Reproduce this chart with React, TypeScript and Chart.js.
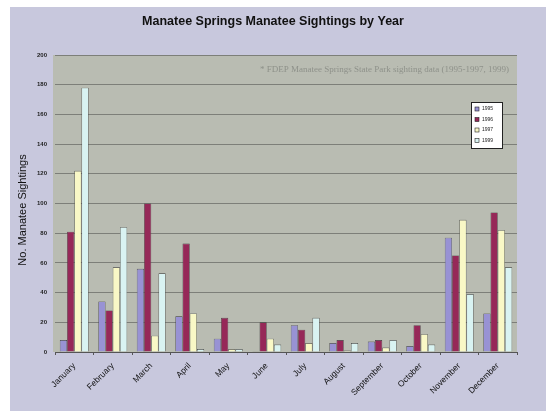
import React, { useEffect, useRef } from "react";
import { Chart, registerables } from "chart.js";

Chart.register(...registerables);

const months = ["January","February","March","April","May","June","July","August","September","October","November","December"];
const seriesLabels = ["1995", "1996", "1997", "1999"];
const y1995 = [8, 34, 56, 24, 9, 0.5, 18, 6, 7, 4, 77, 26];
const y1996 = [81, 28, 100, 73, 23, 20, 15, 8, 8, 18, 65, 94];
const y1997 = [122, 57, 11, 26, 2, 9, 6, 1, 3, 12, 89, 82];
const y1999 = [178, 84, 53, 2, 2, 5, 23, 6, 8, 5, 39, 57];
const yTicks = [0, 20, 40, 60, 80, 100, 120, 140, 160, 180, 200];
const colors = ["#9892d4", "#962858", "#f9f8c6", "#d9f3f2"];
const title = "Manatee Springs Manatee Sightings by Year";
const yTitle = "No. Manatee Sightings";
const note = "* FDEP Manatee Springs State Park sighting data (1995-1997, 1999)";

const decor = {
  id: "decor",
  beforeDraw(chart: any) {
    const ctx = chart.ctx;
    const a = chart.chartArea;
    ctx.save();
    ctx.fillStyle = "#ffffff";
    ctx.fillRect(0, 0, chart.width, chart.height);
    ctx.fillStyle = "#c8c8dd";
    ctx.fillRect(10, 7, chart.width - 10, chart.height - 7);
    ctx.fillStyle = "#b9bcb2";
    ctx.fillRect(a.left - 2, a.top, a.right - a.left + 2, a.bottom - a.top);
    ctx.restore();
  },
  afterDraw(chart: any) {
    const ctx = chart.ctx;
    const a = chart.chartArea;
    ctx.save();
    ctx.fillStyle = "#111";
    ctx.font = "bold 12.5px 'Liberation Sans', Arial, sans-serif";
    ctx.textAlign = "center";
    ctx.textBaseline = "middle";
    ctx.fillText(title, 273, 22);
    // y title
    ctx.save();
    ctx.translate(23, 210);
    ctx.rotate(-Math.PI / 2);
    ctx.font = "11px 'Liberation Sans', Arial, sans-serif";
    ctx.fillText(yTitle, 0, 0);
    ctx.restore();
    // note
    ctx.fillStyle = "#8e918a";
    ctx.font = "9px 'Liberation Serif', 'Times New Roman', serif";
    ctx.textAlign = "right";
    ctx.fillText(note, a.right - 8, 70);
    // legend
    const lx = 471, ly = 102, lw = 31, lh = 46;
    ctx.fillStyle = "#ffffff";
    ctx.fillRect(lx, ly, lw, lh);
    ctx.strokeStyle = "#222";
    ctx.lineWidth = 1;
    ctx.strokeRect(lx + 0.5, ly + 0.5, lw, lh);
    ctx.textAlign = "left";
    ctx.font = "5px 'Liberation Sans', Arial, sans-serif";
    chart.data.datasets.forEach((ds: any, i: number) => {
      const yy = ly + 7 + i * 10.5;
      ctx.fillStyle = ds.backgroundColor;
      ctx.fillRect(lx + 4, yy - 2, 4, 4);
      ctx.strokeStyle = "#222";
      ctx.lineWidth = 0.6;
      ctx.strokeRect(lx + 4, yy - 2, 4, 4);
      ctx.fillStyle = "#222";
      ctx.fillText(ds.label, lx + 11, yy);
    });
    ctx.restore();
  },
};

export default function App() {
  const ref = useRef<HTMLCanvasElement>(null);
  useEffect(() => {
    document.body.style.margin = "0";
    const data = [y1995, y1996, y1997, y1999];
    const chart = new Chart(ref.current!, {
      type: "bar",
      data: {
        labels: months,
        datasets: seriesLabels.map((l, i) => ({
          label: l,
          data: data[i],
          backgroundColor: colors[i],
          borderColor: "#3a3a3a",
          borderWidth: 0.6,
          categoryPercentage: 0.75,
          barPercentage: 1.0,
        })),
      },
      options: {
        animation: false,
        responsive: false,
        layout: { padding: { top: 55, right: 29, left: 0, bottom: 0 } },
        plugins: { legend: { display: false }, title: { display: false }, tooltip: { enabled: false } },
        scales: {
          x: {
            grid: { display: true, drawOnChartArea: false, tickLength: 3, color: "#555", offset: true },
            border: { color: "#555" },
            ticks: {
              maxRotation: 45,
              minRotation: 45,
              color: "#111",
              padding: 6,
              font: { family: "'Liberation Sans', Arial, sans-serif", size: 8.5 },
            },
            afterFit: (s: any) => { s.height = 59; },
          },
          y: {
            min: 0,
            max: 200,
            afterBuildTicks: (s: any) => { s.ticks = yTicks.map((v) => ({ value: v })); },
            grid: { color: "#7d7f79", lineWidth: 1, drawTicks: false },
            border: { display: false },
            ticks: {
              color: "#222",
              padding: 8,
              font: { family: "'Liberation Sans', Arial, sans-serif", size: 6, weight: "bold" },
            },
            afterFit: (s: any) => { s.width = 55; },
          },
        },
      },
      plugins: [decor],
    });
    return () => chart.destroy();
  }, []);
  return (
    <div style={{ width: 546, height: 411 }}>
      <canvas ref={ref} width={546} height={411} />
    </div>
  );
}
